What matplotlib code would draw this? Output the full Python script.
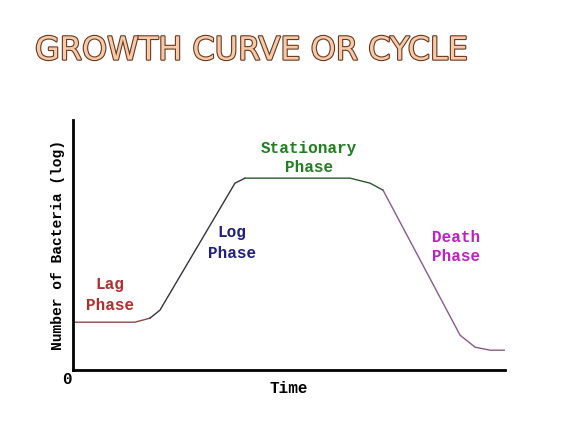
import matplotlib
matplotlib.use("Agg")
import matplotlib.pyplot as plt
import matplotlib.patheffects as pe

# curve points (time, log count) in axis units
lag_x = [0, 62, 77]
lag_y = [48, 48, 52]
log_x = [77, 87, 162, 172]
log_y = [52, 60, 187, 192]
stat_x = [172, 277, 297, 310]
stat_y = [192, 192, 187, 180]
death_x = [310, 387, 402, 417, 432]
death_y = [180, 35, 23, 20, 20]

fig = plt.figure(figsize=(5.65, 4.26), dpi=100)
fig.patch.set_facecolor("white")
ax = fig.add_axes([0.129, 0.131, 0.765, 0.587])
ax.plot(lag_x, lag_y, color="#8a4a4a", lw=1)
ax.plot(log_x, log_y, color="#333344", lw=1)
ax.plot(stat_x, stat_y, color="#2a5a2a", lw=1)
ax.plot(death_x, death_y, color="#8a5a8a", lw=1)
ax.set_xlim(0, 432)
ax.set_ylim(0, 250)
for s in ["top", "right"]:
    ax.spines[s].set_visible(False)
for s in ["left", "bottom"]:
    ax.spines[s].set_linewidth(2)
ax.set_xticks([]); ax.set_yticks([])

mono = dict(family="Liberation Mono", fontweight="bold", fontsize=11.5)
ax.text(-6, -9, "0", ha="center", va="center", **mono)
ax.set_xlabel("Time", labelpad=8, **mono)
ax.set_ylabel("Number of Bacteria (log)", labelpad=6, **dict(mono, fontsize=10.5))
ax.text(37, 75, "Lag\nPhase", color="#b03030", ha="center", va="center", linespacing=1.5, **mono)
ax.text(159, 127, "Log\nPhase", color="#202080", ha="center", va="center", linespacing=1.5, **mono)
ax.text(236, 212, "Stationary\nPhase", color="#208020", ha="center", va="center", linespacing=1.3, **mono)
ax.text(383, 123, "Death\nPhase", color="#c020c0", ha="center", va="center", linespacing=1.3, **mono)

t = fig.text(0.062, 0.88, "GROWTH CURVE OR CYCLE", family="DejaVu Sans", fontsize=23,
             color="#f6c9a8", ha="left", va="center")
t.set_path_effects([pe.Stroke(linewidth=1.6, foreground="#6a3a20"), pe.Normal()])

fig.savefig("out.png", dpi=100)
